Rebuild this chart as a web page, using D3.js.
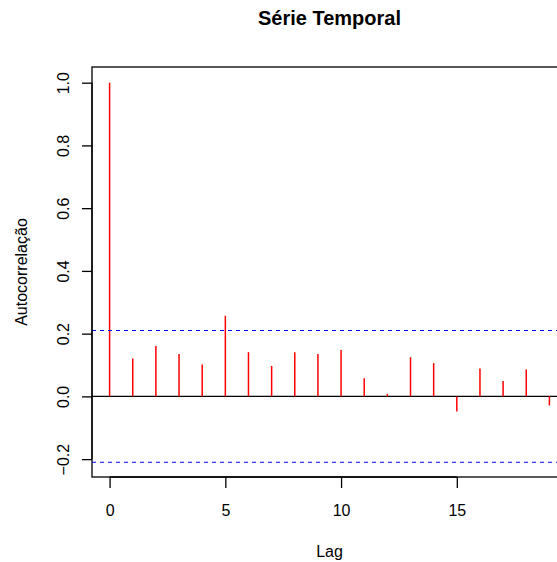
<!DOCTYPE html>
<html lang="pt">
<head>
<meta charset="UTF-8">
<title>Série Temporal</title>
<script src="https://cdn.jsdelivr.net/npm/d3@7"></script>
<style>
  body { margin: 0; background: #fff; }
  text { font-family: "Liberation Sans", Arial, sans-serif; }
</style>
</head>
<body>
<svg width="557" height="562"></svg>
<script>
// dados da FAC
var lags = [0,1,2,3,4,5,6,7,8,9,10,11,12,13,14,15,16,17,18,19];
var acf = [1.0,0.121,0.161,0.135,0.102,0.257,0.141,0.097,0.141,0.135,
           0.148,0.058,0.008,0.125,0.106,-0.048,0.089,0.049,0.086,-0.029];
var ci = 0.21;
var xTicks = [0,5,10,15];
var yTicks = [-0.2,0.0,0.2,0.4,0.6,0.8,1.0];

var svg = d3.select('svg');
var mLeft = 92, mRight = 567, mTop = 67, mBottom = 477;

var x = d3.scaleLinear().domain([-0.76, 19.76]).range([mLeft, mRight]);
var y = d3.scaleLinear().domain([-0.257, 1.05]).range([mBottom, mTop]);

// caixa do gráfico
svg.append('rect')
    .attr('x', mLeft).attr('y', mTop)
    .attr('width', mRight - mLeft).attr('height', mBottom - mTop)
    .attr('fill', 'none').attr('stroke', '#000').attr('stroke-width', 1.3);

// linha zero
svg.append('line')
    .attr('x1', mLeft).attr('x2', mRight)
    .attr('y1', y(0)).attr('y2', y(0))
    .attr('stroke', '#000').attr('stroke-width', 1.3);

// barras
svg.append('g').selectAll('line')
    .data(lags)
    .enter()
    .append('line')
    .attr('x1', function(d){ return x(d); })
    .attr('x2', function(d){ return x(d); })
    .attr('y1', y(0))
    .attr('y2', function(d, i){ return y(acf[i]); })
    .attr('stroke', 'red')
    .attr('stroke-width', 1.5);

// intervalo de confiança
svg.append('g').selectAll('line')
    .data([ci, -ci])
    .enter()
    .append('line')
    .attr('x1', mLeft).attr('x2', mRight)
    .attr('y1', function(d){ return y(d); })
    .attr('y2', function(d){ return y(d); })
    .attr('stroke', 'blue')
    .attr('stroke-width', 1.2)
    .attr('stroke-dasharray', '4,4');

// eixo x
var xAxis = d3.axisBottom(x).tickValues(xTicks).tickSize(11).tickPadding(17).tickSizeOuter(0);
var gx = svg.append('g').attr('transform', 'translate(0,' + mBottom + ')').call(xAxis);
gx.select('.domain').attr('d', 'M' + x(0) + ',0H' + x(15)).attr('stroke-width', 1.3);
gx.selectAll('text').attr('font-size', 16).attr('fill', '#000')
    .attr('font-family', '"Liberation Sans", Arial, sans-serif');
gx.selectAll('.tick line').attr('stroke-width', 1.3);

// eixo y
var yAxis = d3.axisLeft(y).tickValues(yTicks).tickSize(10).tickFormat(d3.format('.1f'));
var gy = svg.append('g').attr('transform', 'translate(' + mLeft + ',0)').call(yAxis);
gy.select('.domain').attr('d', 'M0,' + y(-0.2) + 'V' + y(1.0)).attr('stroke-width', 1.3);
gy.selectAll('.tick line').attr('stroke-width', 1.3);
gy.selectAll('text')
    .attr('font-size', 16).attr('fill', '#000')
    .attr('font-family', '"Liberation Sans", Arial, sans-serif')
    .attr('x', 0).attr('dy', 0)
    .attr('text-anchor', 'middle')
    .attr('transform', 'translate(-23,0) rotate(-90)')
    .text(function(d){ return d3.format('.1f')(d).replace('-', '\u2212'); });

// títulos
svg.append('text')
    .attr('x', (mLeft + mRight) / 2).attr('y', 25)
    .attr('text-anchor', 'middle')
    .attr('font-size', 20).attr('font-weight', 'bold')
    .text('Série Temporal');

svg.append('text')
    .attr('x', (mLeft + mRight) / 2).attr('y', 557)
    .attr('text-anchor', 'middle')
    .attr('font-size', 16)
    .text('Lag');

svg.append('text')
    .attr('transform', 'translate(27,' + ((mTop + mBottom) / 2) + ') rotate(-90)')
    .attr('text-anchor', 'middle')
    .attr('font-size', 16)
    .text('Autocorrelação');
</script>
</body>
</html>
